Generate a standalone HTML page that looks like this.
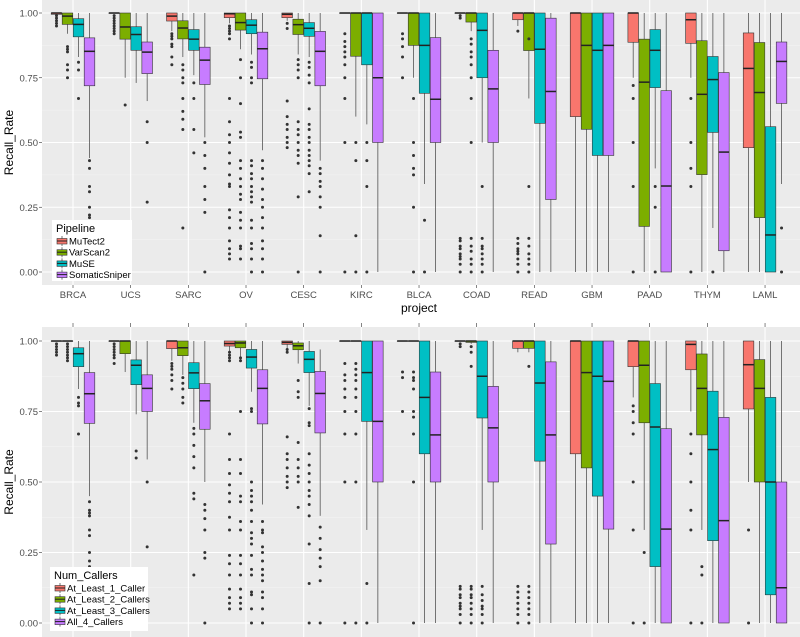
<!DOCTYPE html>
<html><head><meta charset="utf-8"><style>
html,body{margin:0;padding:0;background:#fff;}
svg{display:block;font-family:"Liberation Sans",sans-serif;}
</style></head><body>
<svg id="chart" width="800" height="637" viewBox="0 0 800 637" xmlns="http://www.w3.org/2000/svg"></svg>
<script>
const categories = ["BRCA","UCS","SARC","OV","CESC","KIRC","BLCA","COAD","READ","GBM","PAAD","THYM","LAML"];
const yTicks = [0, 0.25, 0.5, 0.75, 1.0];
const yTickLabels = ["0.00","0.25","0.50","0.75","1.00"];
const pipelineNames = ["MuTect2","VarScan2","MuSE","SomaticSniper"];
const callerNames = ["At_Least_1_Caller","At_Least_2_Callers","At_Least_3_Callers","All_4_Callers"];
const colors = ["#F8766D","#7CAE00","#00BFC4","#C77CFF"];

// [lower whisker, q1, median, q3, upper whisker]
const topMuTect2 = [[0.98,0.995,1,1,1],[1,1,1,1,1],[0.93,0.969,0.988,1,1],[0.96,0.982,0.997,1,1],[0.97,0.982,0.995,1,1],[1,1,1,1,1],[1,1,1,1,1],[1,1,1,1,1],[0.95,0.974,1,1,1],[0,0.6,1,1,1],[0.75,0.887,1,1,1],[0.75,0.883,0.974,1,1],[0,0.48,0.786,0.923,1]];
const topVarScan2 = [[0.92,0.956,0.988,1,1],[0.75,0.899,0.946,1,1],[0.83,0.9,0.942,0.97,1],[0.86,0.934,0.963,1,1],[0.84,0.917,0.955,0.976,1],[0.6,0.833,1,1,1],[0.75,0.875,1,1,1],[0.93,0.965,1,1,1],[0.67,0.855,1,1,1],[0,0.551,0.875,1,1],[0,0.176,0.733,0.899,1],[0,0.376,0.686,0.893,1],[0,0.21,0.693,0.886,1]];
const topMuSE = [[0.83,0.908,0.956,0.978,1],[0.73,0.856,0.917,0.947,1],[0.76,0.856,0.899,0.936,1],[0.84,0.92,0.953,0.974,1],[0.83,0.91,0.941,0.963,1],[0.57,0.8,1,1,1],[0.34,0.69,0.875,1,1],[0.5,0.75,0.933,1,1],[0,0.574,0.86,1,1],[0,0.45,0.856,1,1],[0.4,0.712,0.856,0.936,1],[0.17,0.539,0.743,0.832,1],[0,0,0.143,0.561,1]];
const topSomaticSniper = [[0.44,0.719,0.852,0.904,1],[0.66,0.766,0.849,0.888,1],[0.52,0.724,0.818,0.868,1],[0.47,0.746,0.862,0.926,1],[0.43,0.719,0.852,0.929,1],[0,0.5,0.75,1,1],[0,0.5,0.667,0.905,1],[0,0.5,0.707,0.856,1],[0,0.28,0.697,0.98,1],[0,0.45,0.875,1,1],[0,0,0.332,0.7,1],[0,0.082,0.463,0.77,1],[0.34,0.651,0.813,0.888,1]];

const topMuTect2Out = [[0.99,0.98,0.97,0.96,0.95],[0.99,0.98,0.97,0.96,0.95,0.94,0.93,0.92],[0.92,0.91,0.9,0.88,0.87,0.83,0.8],[0.95,0.94,0.93,0.92,0.9,0.67,0.58,0.53,0.5,0.46,0.42,0.375,0.34,0.33,0.24,0.21,0.17,0.12,0.09,0.07,0.05],[0.96,0.94,0.66,0.6,0.57,0.55,0.52,0.5,0.48],[0.92,0.89,0.87,0.85,0.83,0.8,0.75,0.67,0.5,0],[0.92,0.9,0.87,0.83,0.75],[0.99,0.98,0.13,0.12,0.1,0.09,0.07,0.06,0.05,0.03,0],[0.93,0.13,0.11,0.09,0.08,0.07,0.05,0.03,0],[],[0.72,0.67,0.5,0.33,0],[0.67,0.5,0.4,0.33,0],[]];
const topVarScan2Out = [[0.87,0.86,0.85,0.8,0.78,0.75],[0.645],[0.8,0.78,0.75,0.73,0.67,0.62,0.59,0.55,0.17],[0.82,0.75,0.65,0.54,0.52,0.43,0.4,0.36,0.33,0.3,0.28,0.23,0.2,0.17,0.1,0.09,0.05],[0.82,0.8,0.78,0.75,0.58,0.55,0.53,0.5,0.47,0.45,0.42,0.29,0],[0.5,0.43,0.14,0],[0.67,0.5,0.45,0.4,0.375,0.25,0],[0.9,0.88,0.85,0.83,0.8,0.75,0.67,0.5,0.13,0.1,0.08,0.05,0.03,0],[0.9,0.33,0.13,0.1,0.07,0.05,0.03,0],[],[],[],[]];
const topMuSEOut = [[0.81,0.78,0.67],[],[0.73,0.67,0.55,0.46],[0.81,0.79,0.75,0.73,0.43,0.41,0.38,0.36,0.33,0.31,0.29,0.27,0.2,0.17,0.11,0.09,0.05,0],[0.81,0.79,0.76,0.73,0.63,0.57,0.55,0.52,0.5,0.47,0.45,0.43,0.41,0.38,0.31],[0.5,0.43,0.33,0],[0.2,0],[0.33,0.13,0.1,0.09,0.07,0.05,0.03,0],[],[],[0.33,0.25,0],[0],[]];
const topSomaticSniperOut = [[0.43,0.4,0.33,0.31,0.25,0.22,0.21],[0.58,0.5,0.27],[0.5,0.45,0.4,0.33,0.28,0.23,0],[0.43,0.4,0.36,0.32,0.28,0.25,0.21,0.17,0.12,0.09,0.05,0],[0.4,0.38,0.35,0.33,0.29,0.25,0.14,0],[],[],[],[],[],[],[],[0.17,0]];

const botOne = [[1,1,1,1,1],[1,1,1,1,1],[0.93,0.973,1,1,1],[0.96,0.982,0.991,1,1],[0.97,0.988,0.995,1,1],[1,1,1,1,1],[1,1,1,1,1],[1,1,1,1,1],[0.96,0.974,1,1,1],[0,0.6,1,1,1],[0.8,0.909,1,1,1],[0.75,0.898,0.988,1,1],[0.5,0.759,0.916,1,1]];
const botTwo = [[1,1,1,1,1],[0.89,0.955,1,1,1],[0.88,0.948,0.976,1,1],[0.93,0.976,0.993,1,1],[0.92,0.969,0.983,0.993,1],[1,1,1,1,1],[1,1,1,1,1],[0.99,0.995,1,1,1],[0.96,0.974,1,1,1],[0,0.55,0.888,1,1],[0.33,0.71,0.914,1,1],[0.33,0.667,0.832,0.954,1],[0,0.5,0.832,0.934,1]];
const botThree = [[0.83,0.909,0.955,0.976,1],[0.74,0.845,0.914,0.933,1],[0.71,0.831,0.887,0.923,1],[0.82,0.904,0.943,0.97,1],[0.77,0.888,0.935,0.963,1],[0.33,0.715,0.888,1,1],[0,0.6,0.8,1,1],[0.33,0.727,0.875,1,1],[0,0.574,0.851,1,1],[0,0.45,0.875,1,1],[0,0.2,0.695,0.849,1],[0,0.292,0.615,0.822,1],[0,0.1,0.5,0.8,1]];
const botFour = [[0.45,0.708,0.813,0.888,1],[0.58,0.75,0.832,0.88,1],[0.5,0.687,0.788,0.849,1],[0.42,0.706,0.832,0.898,1],[0.38,0.674,0.814,0.892,0.97],[0,0.5,0.715,1,1],[0,0.5,0.667,0.89,1],[0,0.5,0.692,0.839,1],[0,0.28,0.667,0.926,1],[0,0.333,0.857,1,1],[0,0,0.333,0.689,1],[0,0,0.363,0.729,1],[0,0,0.125,0.5,1]];

const botOneOut = [[0.99,0.98,0.97,0.96,0.95],[0.99,0.98,0.97,0.96,0.95,0.94,0.92],[0.92,0.91,0.9,0.88,0.86,0.83],[0.96,0.95,0.94,0.93,0.67,0.58,0.53,0.49,0.46,0.43,0.375,0.33,0.24,0.21,0.17,0.12,0.09,0.07,0.05],[0.97,0.96,0.66,0.6,0.58,0.55,0.52,0.5,0.48],[0.92,0.88,0.86,0.83,0.8,0.75,0.67,0.5,0],[0.89,0.87,0.75],[0.99,0.98,0.13,0.12,0.1,0.09,0.07,0.06,0.05,0.03,0],[0.13,0.11,0.09,0.07,0.05,0.03,0],[],[0.77,0.75,0.71,0.67,0.5,0.33,0],[0.67,0.6,0.5,0.4,0.33,0],[0.33,0]];
const botTwoOut = [[0.99,0.98,0.97,0.96,0.95,0.94,0.93],[],[0.87,0.85,0.83,0.8,0.78],[0.94,0.93,0.75,0.58,0.53,0.45,0.43,0.36,0.33,0.24,0.21,0.17,0.12,0.09,0.07,0.05],[0.86,0.82,0.8,0.64,0.58,0.55,0.52,0.5,0.41],[0.92,0.9,0.88,0.86,0.83,0.8,0.75,0.67,0.5,0],[0.89,0.87,0.86,0.83,0.75,0.73,0.67,0.5,0],[0.98,0.96,0.91,0.13,0.12,0.1,0.09,0.07,0.05,0.03,0],[0.91,0.13,0.11,0.09,0.07,0.05,0.03,0],[],[0.25,0],[0.2,0.17,0],[]];
const botThreeOut = [[0.8,0.78,0.77,0.67],[0.61,0.585],[0.69,0.67,0.63,0.59,0.55,0.46,0.44,0.17],[0.76,0.75,0.5,0.47,0.45,0.43,0.4,0.36,0.32,0.3,0.28,0.24,0.19,0.17,0.11,0.1,0.05,0],[0.76,0.71,0.7,0.6,0.56,0.53,0.5,0.47,0.45,0.42,0.38,0.28,0.14,0],[0.14,0],[],[0.13,0.1,0.08,0.06,0.05,0.03,0],[],[],[],[],[]];
const botFourOut = [[0.43,0.4,0.39,0.38,0.33,0.31,0.25,0.22,0.2,0.17,0.12,0.09,0.05],[0.5,0.27],[0.42,0.4,0.37,0.33,0.25,0.23,0],[0.36,0.33,0.32,0.27,0.25,0.22,0.19,0.17,0.15,0.11,0.09,0.05,0],[0.34,0.3,0.26,0.23,0.2,0.15,0],[],[],[],[],[],[],[],[]];

const NS = "http://www.w3.org/2000/svg";
const svg = document.getElementById("chart");
function mk(tag, attrs, parent) {
  const e = document.createElementNS(NS, tag);
  for (const k in attrs) e.setAttribute(k, attrs[k]);
  (parent || svg).appendChild(e);
  return e;
}
const X0 = 42, X1 = 800;
const xScale = i => 73 + i * 57.67;
const dodge = j => (j - 1.5) * 11;
const BW = 10.6;

function drawPanel(p) {
  const yS = v => p.yOne + (1 - v) * (p.yZero - p.yOne);
  const g = mk("g", {});
  
  
  const bg = mk("rect", {x: X0, y: p.top, width: X1 - X0, height: p.bottom - p.top, fill: "#EBEBEB"}, g);
  
  
  for (let v = 0.125; v < 1; v += 0.25) {
    const l = mk("line", {x1: X0, x2: X1, y1: yS(v), y2: yS(v), stroke: "#F5F5F5", "stroke-width": 0.6}, g);
    
    
  }
  yTicks.forEach((v, k) => {
    const l = mk("line", {x1: X0, x2: X1, y1: yS(v), y2: yS(v), stroke: "#fff", "stroke-width": 1.1}, g);
    
    
    const tm = mk("line", {x1: X0 - 3, x2: X0, y1: yS(v), y2: yS(v), stroke: "#333", "stroke-width": 0.6}, g);
    
    
    const t = mk("text", {x: X0 - 4, y: yS(v) + 3.5, "text-anchor": "end", "font-size": 9.5, fill: "#4D4D4D"}, g);
    t.textContent = yTickLabels[k];
    
    
  });
  categories.forEach((c, i) => {
    const l = mk("line", {x1: xScale(i), x2: xScale(i), y1: p.top, y2: p.bottom, stroke: "#fff", "stroke-width": 1.1}, g);
    
    
    const tm = mk("line", {x1: xScale(i), x2: xScale(i), y1: p.bottom, y2: p.bottom + 3, stroke: "#333", "stroke-width": 0.6}, g);
    
    
    if (p.topTicks) {
      const tt = mk("line", {x1: xScale(i), x2: xScale(i), y1: p.top - 4, y2: p.top, stroke: "#333", "stroke-width": 0.6}, g);
      
      
    }
    if (p.labels) {
      const t = mk("text", {x: xScale(i), y: p.bottom + 13, "text-anchor": "middle", "font-size": 9.5, fill: "#4D4D4D"}, g);
      t.textContent = c;
      
      
    }
  });
  p.series.forEach((ser, j) => {
    ser.forEach((s, i) => {
      const cx = xScale(i) + dodge(j);
      const bx = mk("g", {}, g);
      
      
      mk("line", {x1: cx, x2: cx, y1: yS(s[4]), y2: yS(s[3]), stroke: "#555", "stroke-width": 0.8}, bx);
      mk("line", {x1: cx, x2: cx, y1: yS(s[1]), y2: yS(s[0]), stroke: "#555", "stroke-width": 0.8}, bx);
      mk("rect", {x: cx - BW / 2, y: yS(s[3]), width: BW, height: Math.max(0.3, yS(s[1]) - yS(s[3])), fill: colors[j], stroke: "#333", "stroke-width": 0.6}, bx);
      mk("line", {x1: cx - BW / 2, x2: cx + BW / 2, y1: yS(s[2]), y2: yS(s[2]), stroke: "#222", "stroke-width": 1.5}, bx);
      p.outliers[j][i].forEach(v => {
        mk("circle", {cx: cx, cy: yS(v), r: 1.5, fill: "#333"}, bx);
      });
    });
  });
  const yl = mk("text", {x: 0, y: 0, transform: "translate(13," + ((p.top + p.bottom) / 2) + ") rotate(-90)", "text-anchor": "middle", "font-size": 12, fill: "#000"}, g);
  yl.textContent = "Recall_Rate";
  
  

  const L = p.legend;
  const lg = mk("g", {}, g);
  
  
  mk("rect", {x: L.x, y: L.y, width: L.w, height: L.h, fill: "#fff"}, lg);
  const tt = mk("text", {x: L.x + 4, y: L.y + 12, "font-size": 11, fill: "#000"}, lg);
  tt.textContent = L.title;
  
  
  L.names.forEach((n, k) => {
    const ey = L.y + 16 + k * 11.2;
    const e = mk("g", {}, lg);
    
    
    mk("line", {x1: L.x + 10, x2: L.x + 10, y1: ey, y2: ey + 10, stroke: "#555", "stroke-width": 0.8}, e);
    mk("rect", {x: L.x + 5, y: ey + 2.5, width: 10, height: 5.5, fill: colors[k], stroke: "#333", "stroke-width": 0.6}, e);
    mk("line", {x1: L.x + 5, x2: L.x + 15, y1: ey + 5, y2: ey + 5, stroke: "#222", "stroke-width": 1}, e);
    const t = mk("text", {x: L.x + 17, y: ey + 8.5, "font-size": 9.5, fill: "#000"}, e);
    t.textContent = n;
  });
}

drawPanel({name: "pipeline-panel", top: 0, bottom: 285, yOne: 13, yZero: 272, labels: true, topTicks: false,
  series: [topMuTect2, topVarScan2, topMuSE, topSomaticSniper],
  outliers: [topMuTect2Out, topVarScan2Out, topMuSEOut, topSomaticSniperOut],
  legend: {x: 52, y: 220, w: 80, h: 61, title: "Pipeline", names: pipelineNames}});
drawPanel({name: "num-callers-panel", top: 327, bottom: 637, yOne: 341, yZero: 623, labels: false, topTicks: true,
  series: [botOne, botTwo, botThree, botFour],
  outliers: [botOneOut, botTwoOut, botThreeOut, botFourOut],
  legend: {x: 50, y: 567, w: 98, h: 64, title: "Num_Callers", names: callerNames}});

const xt = mk("text", {x: 419, y: 312, "text-anchor": "middle", "font-size": 12, fill: "#000"});
xt.textContent = "project";


</script>
</body></html>
